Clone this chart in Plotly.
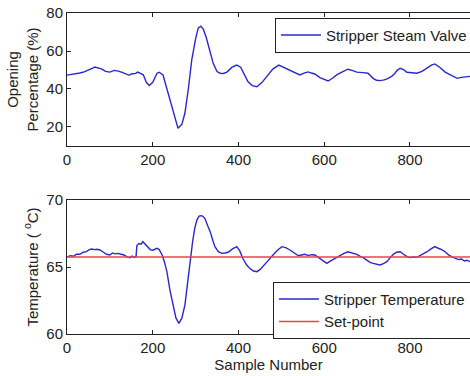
import plotly.graph_objects as go

# ---- data ----
valve_x = [0, 10, 20, 30, 40, 50, 60, 65, 70, 80, 90, 100, 110, 120, 130, 140, 145, 150, 160, 165,
           170, 178, 185, 192, 200, 210, 215, 224, 230, 240, 250, 259, 268, 275, 283, 291, 300, 306,
           312, 318, 325, 333, 341, 350, 357, 365, 373, 385, 396, 405, 412, 422, 432, 443, 455, 466,
           480, 494, 507, 520, 530, 543, 553, 562, 570, 578, 590, 600, 609, 620, 629, 640, 655, 665,
           676, 690, 702, 714, 722, 730, 740, 749, 758, 765, 770, 777, 785, 793, 805, 816, 828, 840,
           850, 858, 870, 882, 895, 910, 920, 933, 945]
valve_y = [47.3, 47.6, 48.0, 48.4, 49.0, 49.8, 51.0, 51.6, 51.2, 50.6, 49.3, 48.9, 49.8, 49.4, 48.6,
           47.6, 47.2, 47.9, 48.2, 48.9, 48.3, 47.5, 43.5, 41.8, 43.5, 48.3, 48.8, 47.4, 42.5, 34.2,
           25.5, 19.3, 21.5, 27.2, 40.0, 55.3, 66.5, 72.0, 73.0, 71.5, 67.0, 60.0, 53.5, 49.2, 48.3,
           48.2, 48.9, 51.5, 52.6, 51.5, 48.5, 43.9, 41.8, 41.2, 43.5, 46.5, 50.5, 52.6, 51.3, 50.0,
           48.8, 47.4, 48.4, 49.0, 48.4, 47.9, 46.0, 45.0, 44.2, 45.8, 47.4, 48.8, 50.4, 49.8, 48.9,
           48.6, 48.3, 45.6, 44.6, 44.4, 44.8, 45.6, 46.8, 48.3, 49.8, 50.9, 50.2, 48.8, 48.5, 48.3,
           49.3, 50.9, 52.6, 53.2, 51.3, 48.9, 47.2, 45.6, 46.1, 46.5, 46.8]

temp_x = [0, 8, 15, 22, 30, 38, 45, 52, 58, 64, 70, 77, 85, 92, 100, 106, 112, 119, 126, 133, 140,
          147, 152, 157, 161, 163, 168, 173, 177, 182, 188, 194, 200, 205, 210, 215, 222, 228, 233,
          240, 247, 254, 261, 268, 275, 281, 287, 293, 298, 303, 308, 313, 317, 322, 328, 334, 340,
          345, 353, 361, 368, 376, 386, 396, 403, 410, 418, 426, 435, 443, 450, 457, 467, 477, 489,
          501, 510, 520, 530, 539, 547, 555, 563, 570, 578, 586, 594, 600, 606, 615, 625, 635, 645,
          655, 665, 676, 684, 691, 700, 707, 714, 722, 730, 738, 746, 754, 761, 769, 777, 785, 793,
          800, 808, 816, 824, 832, 840, 849, 858, 866, 874, 882, 890, 898, 905, 913, 920, 927, 933,
          940, 950]
temp_y = [65.75, 65.85, 65.8, 65.95, 65.95, 66.1, 66.15, 66.3, 66.34, 66.3, 66.32, 66.27, 66.1,
          65.95, 65.9, 66.05, 65.98, 66.02, 65.95, 65.9, 65.75, 65.7, 65.82, 65.72, 65.77, 66.6,
          66.75, 66.7, 66.89, 66.7, 66.5, 66.3, 66.25, 66.35, 66.4, 66.3, 65.9, 65.3, 64.65, 63.3,
          62.16, 61.2, 60.8, 61.2, 62.16, 63.8, 65.4, 66.9, 67.9, 68.5, 68.8, 68.83, 68.78, 68.6,
          68.1, 67.64, 67.0, 66.52, 66.15, 66.02, 66.05, 66.1, 66.35, 66.52, 66.2, 65.65, 65.2,
          64.9, 64.7, 64.65, 64.8, 65.02, 65.4, 65.77, 66.2, 66.52, 66.45, 66.27, 66.05, 65.85,
          65.9, 65.95, 65.85, 65.92, 65.9, 65.7, 65.5, 65.35, 65.27, 65.45, 65.65, 65.85, 66.0,
          66.14, 66.05, 65.95, 65.8, 65.7, 65.5, 65.35, 65.27, 65.2, 65.15, 65.25, 65.4, 65.7,
          65.95, 66.1, 66.14, 65.95, 65.77, 65.7, 65.75, 65.72, 65.85, 66.0, 66.14, 66.35, 66.52,
          66.4, 66.3, 66.14, 65.9, 65.75, 65.65, 65.55, 65.6, 65.45, 65.5, 65.4, 65.45]

setpoint_x = [0, 1000]
setpoint_y = [65.75, 65.75]

x_ticks = [0, 200, 400, 600, 800]
valve_ticks = [20, 40, 60, 80]
temp_ticks = [60, 65, 70]

BLUE = "rgb(40,40,210)"
RED = "rgb(232,70,70)"
FONT = "Liberation Sans, Arial, sans-serif"
TXT = "#222"
FS = 15

fig = go.Figure()
fig.add_trace(go.Scatter(x=valve_x, y=valve_y, mode="lines", name="Stripper Steam Valve",
                         line=dict(color=BLUE, width=1.4), xaxis="x", yaxis="y", legend="legend"))
fig.add_trace(go.Scatter(x=temp_x, y=temp_y, mode="lines", name="Stripper Temperature",
                         line=dict(color=BLUE, width=1.4), xaxis="x2", yaxis="y2", legend="legend2"))
fig.add_trace(go.Scatter(x=setpoint_x, y=setpoint_y, mode="lines", name="Set-point",
                         line=dict(color=RED, width=1.5), xaxis="x2", yaxis="y2", legend="legend2"))

xcommon = dict(range=[0, 940], tickvals=x_ticks, ticks="inside", ticklen=4, showline=True,
               linecolor="#222", linewidth=1, mirror="ticks", showgrid=False, zeroline=False,
               tickfont=dict(family=FONT, size=FS, color=TXT), tickcolor="#222")
ycommon = dict(ticks="inside", ticklen=4, showline=True, linecolor="#222", linewidth=1,
               showgrid=False, zeroline=False, tickcolor="#222",
               tickfont=dict(family=FONT, size=FS, color=TXT))

fig.update_layout(
    width=470, height=376,
    margin=dict(l=67, r=0, t=13, b=42, autoexpand=False),
    paper_bgcolor="white", plot_bgcolor="white",
    font=dict(family=FONT, size=FS, color=TXT),
    xaxis=dict(domain=[0, 1], anchor="y", **xcommon),
    yaxis=dict(domain=[0.5857, 1], anchor="x", range=[10, 80], tickvals=valve_ticks,
               title=dict(text="Opening<br>Percentage (%)", standoff=4,
                          font=dict(family=FONT, size=FS, color=TXT)), **ycommon),
    xaxis2=dict(domain=[0, 1], anchor="y2",
                title=dict(text="Sample Number", standoff=1,
                           font=dict(family=FONT, size=FS, color=TXT)), **xcommon),
    yaxis2=dict(domain=[0, 0.4174], anchor="x2", range=[60, 70], tickvals=temp_ticks,
                title=dict(text="Temperature ( <sup>o</sup>C)", standoff=4,
                           font=dict(family=FONT, size=FS, color=TXT)), **ycommon),
    legend=dict(x=0.516, y=0.985, xanchor="left", yanchor="top", bgcolor="white",
                bordercolor="#222", borderwidth=1, font=dict(family=FONT, size=FS, color=TXT),
                itemwidth=40, tracegroupgap=0),
    legend2=dict(x=0.511, y=0.163, xanchor="left", yanchor="top", bgcolor="white",
                 bordercolor="#222", borderwidth=1, font=dict(family=FONT, size=FS, color=TXT),
                 itemwidth=40, tracegroupgap=0),
    showlegend=True,
)

fig.write_html("out.html")
